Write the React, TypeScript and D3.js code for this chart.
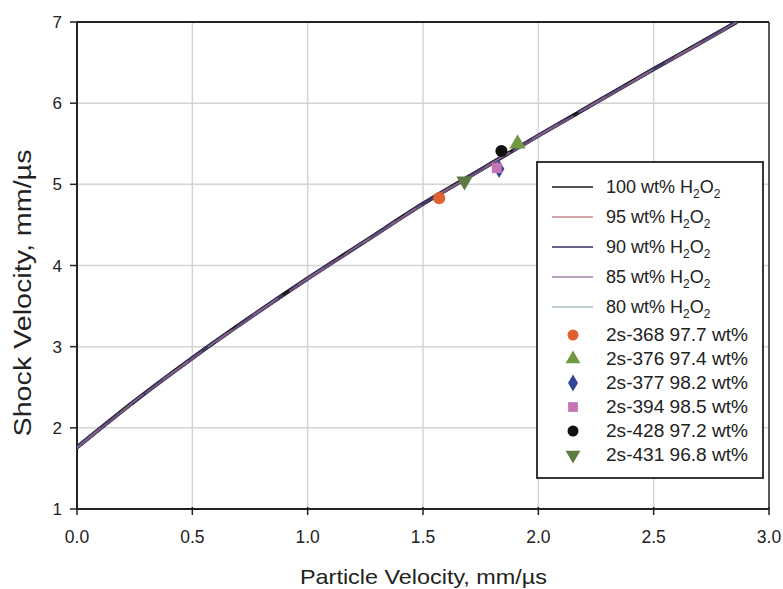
import React from "react";
import * as d3 from "d3";

const upGrid = [0, 0.25, 0.5, 0.75, 1.0, 1.25, 1.5, 1.75, 2.0, 2.25, 2.5, 2.75, 2.86];
const us80 = [1.75, 2.32, 2.85, 3.35, 3.83, 4.29, 4.75, 5.17, 5.59, 6.0, 6.41, 6.81, 6.99];
const us85 = [1.75, 2.32, 2.85, 3.35, 3.83, 4.29, 4.75, 5.17, 5.59, 6.0, 6.41, 6.81, 6.99];
const us90 = [1.76, 2.33, 2.86, 3.36, 3.84, 4.30, 4.76, 5.18, 5.60, 6.01, 6.42, 6.82, 7.0];
const us95 = [1.76, 2.33, 2.86, 3.36, 3.84, 4.30, 4.76, 5.18, 5.60, 6.01, 6.42, 6.82, 7.0];
const us100 = [1.76, 2.33, 2.86, 3.36, 3.84, 4.30, 4.76, 5.18, 5.60, 6.01, 6.42, 6.82, 7.0];

const lineSeries = [
  { pct: "100", values: us100, color: "#1a1a1a" },
  { pct: "95", values: us95, color: "#c98a90" },
  { pct: "90", values: us90, color: "#2e2f5e" },
  { pct: "85", values: us85, color: "#a384a8" },
  { pct: "80", values: us80, color: "#a9c0bc" },
];

const pointNames = ["2s-368 97.7 wt%", "2s-376 97.4 wt%", "2s-377 98.2 wt%", "2s-394 98.5 wt%", "2s-428 97.2 wt%", "2s-431 96.8 wt%"];
const pointUp = [1.57, 1.91, 1.83, 1.82, 1.84, 1.68];
const pointUs = [4.83, 5.5, 5.19, 5.2, 5.41, 5.04];
const pointColors = ["#e0602e", "#6f9a43", "#33449a", "#c573b4", "#111111", "#5f7a42"];
const pointShapes = ["circle", "triangle", "diamond", "square", "circle", "triangleDown"];

const xTicks = [0, 0.5, 1.0, 1.5, 2.0, 2.5, 3.0];
const yTicks = [1, 2, 3, 4, 5, 6, 7];

const W = 783, H = 589;
const m = { left: 77, right: 769, top: 22, bottom: 509 };
const FONT = "'Liberation Sans', Arial, sans-serif";

function symbolPath(shape: string, size: number) {
  const t =
    shape === "circle" ? d3.symbolCircle :
    shape === "triangle" || shape === "triangleDown" ? d3.symbolTriangle :
    shape === "diamond" ? d3.symbolDiamond : d3.symbolSquare;
  return d3.symbol().type(t).size(size)() as string;
}

export default function App() {
  const x = d3.scaleLinear().domain([0, 3]).range([m.left, m.right]);
  const y = d3.scaleLinear().domain([1, 7]).range([m.bottom, m.top]);
  const line = d3
    .line<number>()
    .x((_, i) => x(upGrid[i]))
    .y((d) => y(d))
    .curve(d3.curveMonotoneX);

  const legX = 537, legY = 162, legW = 226, legH = 316;

  return (
    <svg width={W} height={H} style={{ position: "absolute", left: 0, top: 0, background: "#fff" }} fontFamily={FONT}>
      <rect x={0} y={0} width={W} height={H} fill="#fff" />
      {/* grid */}
      {xTicks.slice(1, -1).map((t) => (
        <line key={"gx" + t} x1={x(t)} x2={x(t)} y1={m.top} y2={m.bottom} stroke="#d4d4d4" strokeWidth={1.5} />
      ))}
      {yTicks.slice(1, -1).map((t) => (
        <line key={"gy" + t} x1={m.left} x2={m.right} y1={y(t)} y2={y(t)} stroke="#d4d4d4" strokeWidth={1.5} />
      ))}
      {/* frame */}
      <line x1={m.left} x2={m.right} y1={m.top} y2={m.top} stroke="#222" strokeWidth={1.8} />
      <line x1={m.right} x2={m.right} y1={m.top} y2={m.bottom} stroke="#222" strokeWidth={1.5} />
      <line x1={m.left} x2={m.left} y1={m.top} y2={m.bottom + 1} stroke="#222" strokeWidth={2} />
      <line x1={m.left - 1} x2={m.right} y1={m.bottom} y2={m.bottom} stroke="#222" strokeWidth={2} />
      {/* ticks */}
      {yTicks.map((t) => (
        <g key={"ty" + t}>
          <line x1={m.left - 7} x2={m.left} y1={y(t)} y2={y(t)} stroke="#222" strokeWidth={1.5} />
          <text x={m.left - 15} y={y(t)} dy="0.36em" textAnchor="end" fontSize={17} fill="#222">{t}</text>
        </g>
      ))}
      {xTicks.map((t) => (
        <g key={"tx" + t}>
          <line x1={x(t)} x2={x(t)} y1={m.bottom - 2} y2={m.bottom + 6} stroke="#222" strokeWidth={1.5} />
          <text x={x(t)} y={m.bottom + 34} textAnchor="middle" fontSize={17.5} fill="#222">{t.toFixed(1)}</text>
        </g>
      ))}
      {/* axis titles */}
      <text x={423.5} y={584} textAnchor="middle" fontSize={21} fill="#222" textLength={247} lengthAdjust="spacingAndGlyphs">Particle Velocity, mm/µs</text>
      <text transform={`translate(31,293) rotate(-90)`} textAnchor="middle" fontSize={23} fill="#222" textLength={287} lengthAdjust="spacingAndGlyphs">Shock Velocity, mm/µs</text>
      {/* curves */}
      <defs>
        <clipPath id="plotclip">
          <rect x={m.left} y={m.top} width={m.right - m.left} height={m.bottom - m.top} />
        </clipPath>
      </defs>
      <g clipPath="url(#plotclip)">
        <path d={line(us100) as string} fill="none" stroke="#141414" strokeWidth={4} />
        <path d={line(us90) as string} fill="none" stroke="#3a3260" strokeWidth={3.6} strokeDasharray="55 12" />
        <path d={line(us85) as string} fill="none" stroke="#6a5078" strokeWidth={2.6} strokeDasharray="70 18" />
        <path d={line(us95) as string} fill="none" stroke="#8a6a8e" strokeWidth={1.4} strokeDasharray="30 25" />
        <path d={line(us80) as string} fill="none" stroke="#6b5575" strokeWidth={1} strokeOpacity={0.5} />
      </g>
      {/* points */}
      {pointUp.map((u, i) => {
        const size = pointShapes[i] === "square" ? 100 : pointShapes[i] === "diamond" ? 95 : 115;
        const rot = pointShapes[i] === "triangleDown" ? " rotate(180)" : "";
        return (
          <path key={"p" + i} d={symbolPath(pointShapes[i], size)} transform={`translate(${x(u)},${y(pointUs[i])})${rot}`} fill={pointColors[i]} />
        );
      })}
      {/* legend */}
      <rect x={legX} y={legY} width={legW} height={legH} fill="#fff" stroke="#222" strokeWidth={1.8} />
      {lineSeries.map((s, i) => {
        const ry = 187 + i * 30;
        return (
          <g key={"ll" + i}>
            <line x1={552} x2={593} y1={ry} y2={ry} stroke={s.color} strokeWidth={1.6} />
            <text x={606} y={ry} dy="0.36em" fontSize={18} fill="#222">
              {s.pct} wt% H<tspan fontSize={12} dy={5}>2</tspan>
              <tspan fontSize={18} dy={-5}>O</tspan>
              <tspan fontSize={12} dy={5}>2</tspan>
            </text>
          </g>
        );
      })}
      {pointNames.map((n, i) => {
        const ry = 335 + i * 24;
        const rot = pointShapes[i] === "triangleDown" ? " rotate(180)" : "";
        return (
          <g key={"lp" + i}>
            <path d={symbolPath(pointShapes[i], pointShapes[i] === "diamond" ? 85 : 95)} transform={`translate(573,${ry})${rot}`} fill={pointColors[i]} />
            <text x={606} y={ry} dy="0.36em" fontSize={18} fill="#222" textLength={142} lengthAdjust="spacingAndGlyphs">{n}</text>
          </g>
        );
      })}
    </svg>
  );
}
